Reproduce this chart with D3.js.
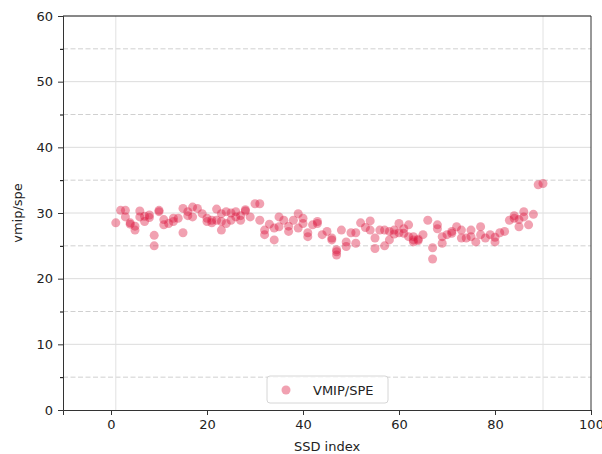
<!DOCTYPE html>
<html>
<head>
<meta charset="utf-8">
<script src="https://cdn.jsdelivr.net/npm/d3@7"></script>
<style>
  body { margin: 0; background: #fff; }
  svg { display: block; font-family: "DejaVu Sans", sans-serif; }
</style>
</head>
<body>
<div id="chart"></div>
<script>
// SSD index of each point and its VMIP/SPE value
const ssdIndex = [
  1, 2, 3, 3, 4, 4, 5, 5, 6, 6, 7, 7, 8, 8, 9, 9, 10, 10, 11, 11,
  12, 13, 13, 14, 15, 15, 16, 16, 17, 17, 18, 19, 20, 20, 21, 21, 22, 22, 23, 23,
  23, 24, 24, 25, 25, 26, 26, 27, 27, 28, 28, 29, 30, 31, 31, 32, 32, 33, 34, 34,
  35, 35, 36, 37, 37, 38, 39, 39, 40, 40, 41, 41, 42, 43, 43, 44, 45, 46, 46, 47,
  47, 47, 48, 49, 49, 50, 51, 51, 52, 53, 54, 54, 55, 55, 56, 57, 57, 58, 58, 59,
  59, 60, 60, 61, 61, 62, 62, 63, 63, 63, 64, 64, 65, 66, 67, 67, 68, 68, 69, 69,
  70, 71, 71, 72, 73, 73, 74, 75, 75, 76, 77, 77, 78, 79, 80, 80, 81, 82, 83, 84,
  84, 85, 85, 86, 86, 87, 88, 89, 90
];
const vmipSpe = [
  28.5, 30.4, 30.4, 29.4, 28.5, 28.3, 27.4, 28.0, 30.3, 29.4, 28.7, 29.5, 29.7, 29.3, 26.6, 25.0, 30.4, 30.2, 28.2, 29.0,
  28.4, 28.7, 29.2, 29.2, 30.7, 27.0, 30.2, 29.6, 30.9, 29.4, 30.7, 29.9, 29.2, 28.7, 28.5, 28.9, 30.6, 28.9, 27.4, 29.9,
  28.7, 30.2, 28.4, 30.0, 28.9, 30.2, 29.4, 28.9, 29.6, 30.5, 30.3, 29.4, 31.4, 31.4, 28.9, 27.4, 26.7, 28.3, 27.7, 25.9,
  29.4, 27.9, 28.9, 27.2, 28.0, 28.9, 29.9, 27.7, 29.2, 28.4, 26.4, 27.0, 28.2, 28.4, 28.7, 26.7, 27.2, 26.2, 25.9, 24.4,
  23.6, 24.1, 27.4, 25.6, 24.9, 27.0, 27.0, 25.4, 28.5, 27.8, 28.8, 27.4, 26.2, 24.6, 27.4, 27.4, 25.0, 25.9, 27.2, 27.4,
  26.8, 28.4, 27.0, 26.9, 27.6, 28.2, 26.4, 25.9, 26.4, 25.6, 26.0, 25.8, 26.7, 28.9, 24.7, 23.0, 28.2, 27.6, 25.4, 26.4,
  26.7, 27.2, 26.9, 27.9, 27.4, 26.2, 26.2, 27.4, 26.4, 25.6, 27.9, 26.7, 26.2, 26.7, 25.6, 26.3, 27.0, 27.2, 28.9, 29.2,
  29.6, 27.9, 29.0, 30.2, 29.4, 28.2, 29.8, 34.3, 34.5
];
const xTicks = [0, 20, 40, 60, 80, 100];
const yTicks = [0, 10, 20, 30, 40, 50, 60];
const yMinorTicks = [5, 15, 25, 35, 45, 55];
const rangeMarks = [1, 90]; // first and last SSD index
const seriesName = 'VMIP/SPE';

const width = 602;
const height = 454;
const margin = { top: 16, right: 11, bottom: 44, left: 63 };

const points = ssdIndex.map((x, i) => ({ x, y: vmipSpe[i] }));

const svg = d3.select('#chart')
  .append('svg')
  .attr('width', width)
  .attr('height', height);

const x = d3.scaleLinear().domain([-10, 100]).range([margin.left, width - margin.right]);
const y = d3.scaleLinear().domain([0, 60]).range([height - margin.bottom, margin.top]);

// horizontal grid: solid at majors, dashed at minors
svg.append('g')
  .selectAll('line')
  .data(yTicks.slice(1, -1))
  .join('line')
  .attr('x1', x(-10)).attr('x2', x(100))
  .attr('y1', d => y(d)).attr('y2', d => y(d))
  .attr('stroke', '#dcdcdc')
  .attr('stroke-width', 1);

svg.append('g')
  .selectAll('line')
  .data(yMinorTicks)
  .join('line')
  .attr('x1', x(-10)).attr('x2', x(100))
  .attr('y1', d => y(d)).attr('y2', d => y(d))
  .attr('stroke', '#d0d0d0')
  .attr('stroke-width', 1)
  .attr('stroke-dasharray', '5,2.5');

// vertical markers at first / last index
svg.append('g')
  .selectAll('line')
  .data(rangeMarks)
  .join('line')
  .attr('x1', d => x(d)).attr('x2', d => x(d))
  .attr('y1', y(0)).attr('y2', y(60))
  .attr('stroke', '#e2e2e2')
  .attr('stroke-width', 1);

// points
svg.append('g')
  .selectAll('circle')
  .data(points)
  .join('circle')
  .attr('cx', d => x(d.x))
  .attr('cy', d => y(d.y))
  .attr('r', 4.5)
  .attr('fill', '#dc143c')
  .attr('fill-opacity', 0.4);

// axes
const xAxis = svg.append('g')
  .attr('transform', `translate(0,${y(0)})`)
  .call(d3.axisBottom(x).tickValues(xTicks).tickSize(5).tickPadding(5));

const yAxis = svg.append('g')
  .attr('transform', `translate(${x(-10)},0)`)
  .call(d3.axisLeft(y).tickValues(yTicks).tickSize(5).tickPadding(5));

svg.append('g')
  .attr('transform', `translate(${x(-10)},0)`)
  .call(d3.axisLeft(y).tickValues(yMinorTicks).tickSize(3).tickFormat(''))
  .call(g => g.select('.domain').remove());

[xAxis, yAxis].forEach(g => {
  g.selectAll('text').attr('font-size', 13).attr('fill', '#222').attr('font-family', '"DejaVu Sans", sans-serif');
  g.selectAll('line').attr('stroke', '#333');
  g.select('.domain').attr('stroke', '#333');
});

// top and right spines
svg.append('line')
  .attr('x1', x(-10)).attr('x2', x(100)).attr('y1', y(60)).attr('y2', y(60))
  .attr('stroke', '#111');
svg.append('line')
  .attr('x1', x(100)).attr('x2', x(100)).attr('y1', y(60)).attr('y2', y(0))
  .attr('stroke', '#333');

// axis labels
svg.append('text')
  .attr('x', (x(-10) + x(100)) / 2)
  .attr('y', 451)
  .attr('text-anchor', 'middle')
  .attr('font-size', 13)
  .attr('fill', '#222')
  .text('SSD index');

svg.append('text')
  .attr('transform', `translate(22,${(y(0) + y(60)) / 2}) rotate(-90)`)
  .attr('text-anchor', 'middle')
  .attr('font-size', 13)
  .attr('fill', '#222')
  .text('vmip/spe');

// legend
const legend = svg.append('g').attr('transform', 'translate(267,376)');
legend.append('rect')
  .attr('width', 121).attr('height', 27)
  .attr('rx', 3)
  .attr('fill', '#fff').attr('fill-opacity', 0.8)
  .attr('stroke', '#d6d6d6');
legend.append('circle')
  .attr('cx', 19).attr('cy', 14)
  .attr('r', 4.5)
  .attr('fill', '#dc143c').attr('fill-opacity', 0.4);
legend.append('text')
  .attr('x', 46).attr('y', 18.5)
  .attr('font-size', 13)
  .attr('fill', '#222')
  .text(seriesName);
</script>
</body>
</html>
